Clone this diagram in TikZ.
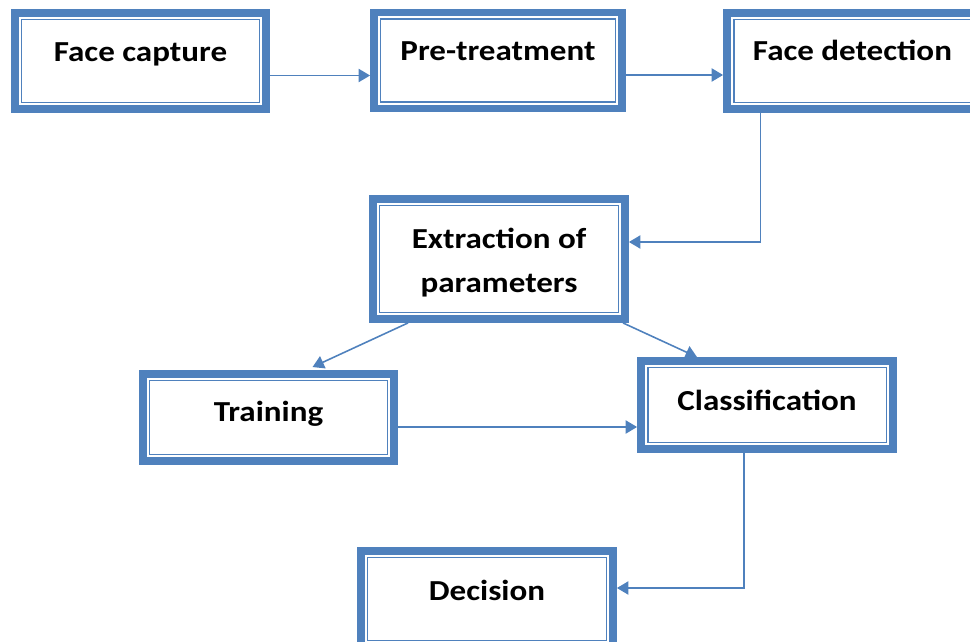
\documentclass[tikz,border=0pt]{standalone}
\usepackage{fontspec}
\setmainfont{Carlito}[FakeStretch=1.14]
\usetikzlibrary{arrows.meta}
\definecolor{officeblue}{HTML}{4F81BD}
\tikzset{
  stage/.style={draw=officeblue, line width=4.5pt, fill=white,
    minimum width=5.02cm, minimum height=1.92cm, inner sep=0pt,
    font=\bfseries\fontsize{16.5}{25}\selectfont, align=center,
    text height=11pt, text depth=7pt,
    path picture={\draw[officeblue, line width=0.9pt]
      ([shift={(3.8pt,-3.8pt)}]path picture bounding box.north west) rectangle
      ([shift={(-3.8pt,3.8pt)}]path picture bounding box.south east);}},
  flow/.style={draw=officeblue, line width=0.9pt, -{Triangle[length=6.5pt,width=7.5pt]}}
}
\begin{document}
\begin{tikzpicture}[x=0.02cm, y=-0.02cm]
\useasboundingbox (0,0) rectangle (970,642);
% stages
\node[stage, text depth=10pt] (capture) at (140.5,61) {Face capture};
\node[stage, minimum width=4.96cm, text depth=11pt] (pretreat) at (498,60.5) {Pre-treatment};
\node[stage, text depth=11pt] (detection) at (852.5,61) {Face detection};
\node[stage, minimum width=5.04cm, minimum height=2.4cm, text height=38.6pt, text depth=1pt] (extraction) at (499,259) {Extraction of\\parameters};
\node[stage, minimum height=1.74cm, text depth=6pt] (training) at (268.5,417.5) {Training};
\node[stage, minimum width=5.04cm, minimum height=1.76cm, text depth=5pt] (classification) at (767,405) {Classification};
\node[stage, minimum width=5.04cm, text depth=9pt] (decision) at (487,599) {Decision};
% connectors
\draw[flow] ([shift={(0,14.5)}]capture.east) -- ([shift={(0,14.5)}]capture.east -| pretreat.west);
\draw[flow] ([shift={(0,14.5)}]pretreat.east) -- ([shift={(0,14.5)}]pretreat.east -| detection.west);
\draw[flow] ([shift={(-92,0)}]detection.south) |- ([shift={(0,-17)}]extraction.east);
\draw[flow] ([shift={(-91,0)}]extraction.south) -- ([shift={(44,-3)}]training.north);
\draw[flow] ([shift={(124,0)}]extraction.south) -- ([shift={(-70,0)}]classification.north);
\draw[flow] ([shift={(0,9.5)}]training.east) -- ([shift={(0,9.5)}]training.east -| classification.west);
\draw[flow] ([shift={(-23,0)}]classification.south) |- ([shift={(0,-11)}]decision.east);
\end{tikzpicture}
\end{document}
